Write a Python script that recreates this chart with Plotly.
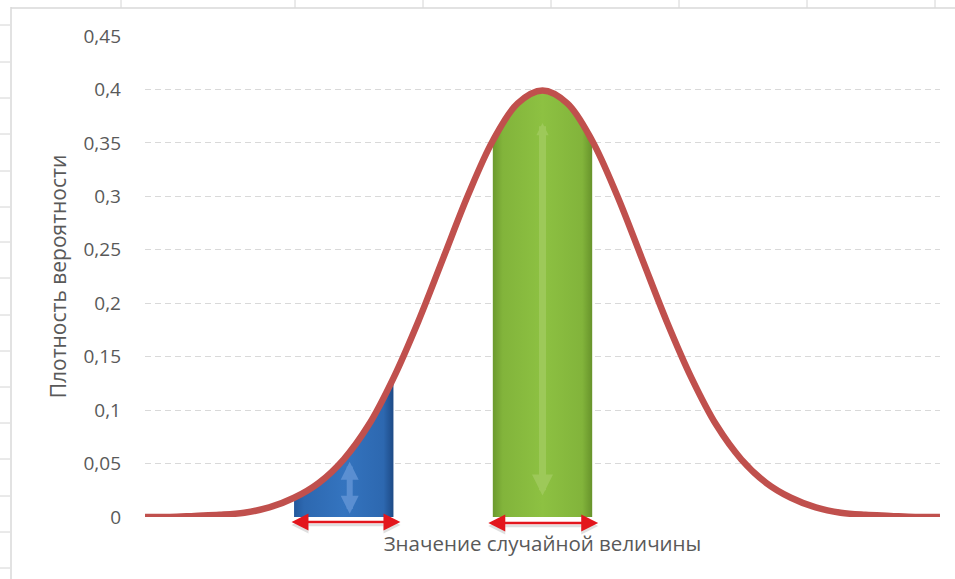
import plotly.graph_objects as go

# Standard normal density, sampled every 0.25
x_vals = [-4.0, -3.75, -3.5, -3.25, -3.0, -2.75, -2.5, -2.25, -2.0, -1.75, -1.5,
          -1.25, -1.0, -0.75, -0.5, -0.25, 0.0, 0.25, 0.5, 0.75, 1.0, 1.25, 1.5,
          1.75, 2.0, 2.25, 2.5, 2.75, 3.0, 3.25, 3.5, 3.75, 4.0]
density = [0.000, 0.000, 0.001, 0.002, 0.004, 0.009, 0.018, 0.032, 0.054, 0.086, 0.130,
           0.183, 0.242, 0.301, 0.352, 0.387, 0.399, 0.387, 0.352, 0.301, 0.242, 0.183, 0.130,
           0.086, 0.054, 0.032, 0.018, 0.009, 0.004, 0.002, 0.001, 0.000, 0.000]

# Shaded intervals
tail_interval = [-2.5, -1.5]
center_interval = [-0.5, 0.5]

y_ticks = [0, 0.05, 0.1, 0.15, 0.2, 0.25, 0.3, 0.35, 0.4, 0.45]
y_tick_text = ["0", "0,05", "0,1", "0,15", "0,2", "0,25", "0,3", "0,35", "0,4", "0,45"]

y_title = "Плотность вероятности"
x_title = "Значение случайной величины"


def segment(lo, hi):
    pts = [(x, y) for x, y in zip(x_vals, density) if lo <= x <= hi]
    return [p[0] for p in pts], [p[1] for p in pts]


fig = go.Figure()

bx, by = segment(*tail_interval)
fig.add_trace(go.Scatter(
    x=bx, y=by, mode="lines", line=dict(width=0, shape="spline", color="#1F4E8C"),
    fill="tozeroy",
    fillgradient=dict(type="horizontal",
                      colorscale=[[0, "#24589C"], [0.1, "#2D68B0"], [0.5, "#3474BF"],
                                  [0.9, "#2D68B0"], [1, "#1D4A86"]]),
    hoverinfo="skip", showlegend=False))

gx, gy = segment(*center_interval)
fig.add_trace(go.Scatter(
    x=gx, y=gy, mode="lines", line=dict(width=0, shape="spline", color="#6E9B2E"),
    fill="tozeroy",
    fillgradient=dict(type="horizontal",
                      colorscale=[[0, "#6C9A2E"], [0.1, "#82B43B"], [0.5, "#8DC142"],
                                  [0.9, "#82B43B"], [1, "#67932B"]]),
    hoverinfo="skip", showlegend=False))

# Density curve
fig.add_trace(go.Scatter(
    x=x_vals, y=density, mode="lines",
    line=dict(color="#C0504D", width=6.5, shape="spline", smoothing=1.0),
    hoverinfo="skip", showlegend=False))

annotations = []

# Vertical double arrows inside the shaded areas
g_mid = sum(center_interval) / 2
annotations.append(dict(x=g_mid, y=0.02, xref="x", yref="y", ax=g_mid, ay=0.37,
                        axref="x", ayref="y", showarrow=True, arrowhead=2, startarrowhead=2,
                        arrowside="end+start", arrowsize=0.6, startarrowsize=0.35,
                        arrowwidth=7, arrowcolor="rgba(165,205,100,0.7)", text=""))
b_mid = -1.94
annotations.append(dict(x=b_mid, y=0.003, xref="x", yref="y", ax=b_mid, ay=0.053,
                        axref="x", ayref="y", showarrow=True, arrowhead=2, startarrowhead=2,
                        arrowside="end+start", arrowsize=0.6, startarrowsize=0.6,
                        arrowwidth=6, arrowcolor="rgba(100,150,215,0.8)", text=""))

# Horizontal width arrows just below the axis (shadow first, then the arrow)
for lo, hi, drop in [(tail_interval[0] - 0.04, tail_interval[1] + 0.07, 5),
                     (center_interval[0] - 0.06, center_interval[1] + 0.06, 6)]:
    for shift, col in [(-drop - 3, "rgba(0,0,0,0.12)"), (-drop, "#E3161D")]:
        annotations.append(dict(x=hi, y=0, xref="x", yref="y", yshift=shift,
                                ax=lo, ay=0, axref="x", ayref="y",
                                showarrow=True, arrowhead=2, startarrowhead=2,
                                arrowside="end+start", arrowsize=1.35, startarrowsize=1.35,
                                arrowwidth=2.5, arrowcolor=col, text=""))

# Chart frame and surrounding sheet grid
L, R, T, B = 145, 15, 36, 62
W, H = 955, 579
pw, ph = W - L - R, H - T - B


def px_x(px):
    return (px - L) / pw


def px_y(py):
    return (H - B - py) / ph


shapes = []
grid_col = "#D4D4D4"
for cx in [121, 295, 423, 551, 679, 807, 935]:
    shapes.append(dict(type="line", xref="paper", yref="paper", x0=px_x(cx), x1=px_x(cx),
                       y0=px_y(0), y1=px_y(8), line=dict(color=grid_col, width=1)))
for ry in [25, 62, 98, 134, 171, 207, 242, 278, 315, 351, 387, 423, 459, 496, 532, 568]:
    shapes.append(dict(type="line", xref="paper", yref="paper", x0=px_x(0), x1=px_x(10),
                       y0=px_y(ry), y1=px_y(ry), line=dict(color=grid_col, width=1)))
shapes.append(dict(type="line", xref="paper", yref="paper", x0=px_x(11), x1=px_x(11),
                   y0=px_y(7), y1=px_y(579), line=dict(color="#D9D9D9", width=1.5)))
shapes.append(dict(type="line", xref="paper", yref="paper", x0=px_x(11), x1=px_x(955),
                   y0=px_y(8), y1=px_y(8), line=dict(color="#D9D9D9", width=1.5)))

fig.update_layout(
    width=W, height=H,
    margin=dict(l=L, r=R, t=T, b=B),
    paper_bgcolor="white", plot_bgcolor="white",
    shapes=shapes, annotations=annotations,
    font=dict(family="Open Sans", color="#595959", size=19),
    xaxis=dict(range=[-4, 4], showgrid=False, zeroline=False, showticklabels=False,
               ticks="", showline=False, fixedrange=True,
               title=dict(text=x_title, font=dict(size=20.5, color="#595959"), standoff=19)),
    yaxis=dict(range=[0, 0.45], tickvals=y_ticks, ticktext=y_tick_text,
               showgrid=True, gridcolor="#D9D9D9", griddash="6px,4px", gridwidth=1,
               zeroline=False, showline=False, ticks="", ticklabelstandoff=23,
               tickfont=dict(size=19, color="#595959"), fixedrange=True,
               title=dict(text=y_title, font=dict(size=21, color="#595959"), standoff=11)),
)

fig.write_html("out.html")
